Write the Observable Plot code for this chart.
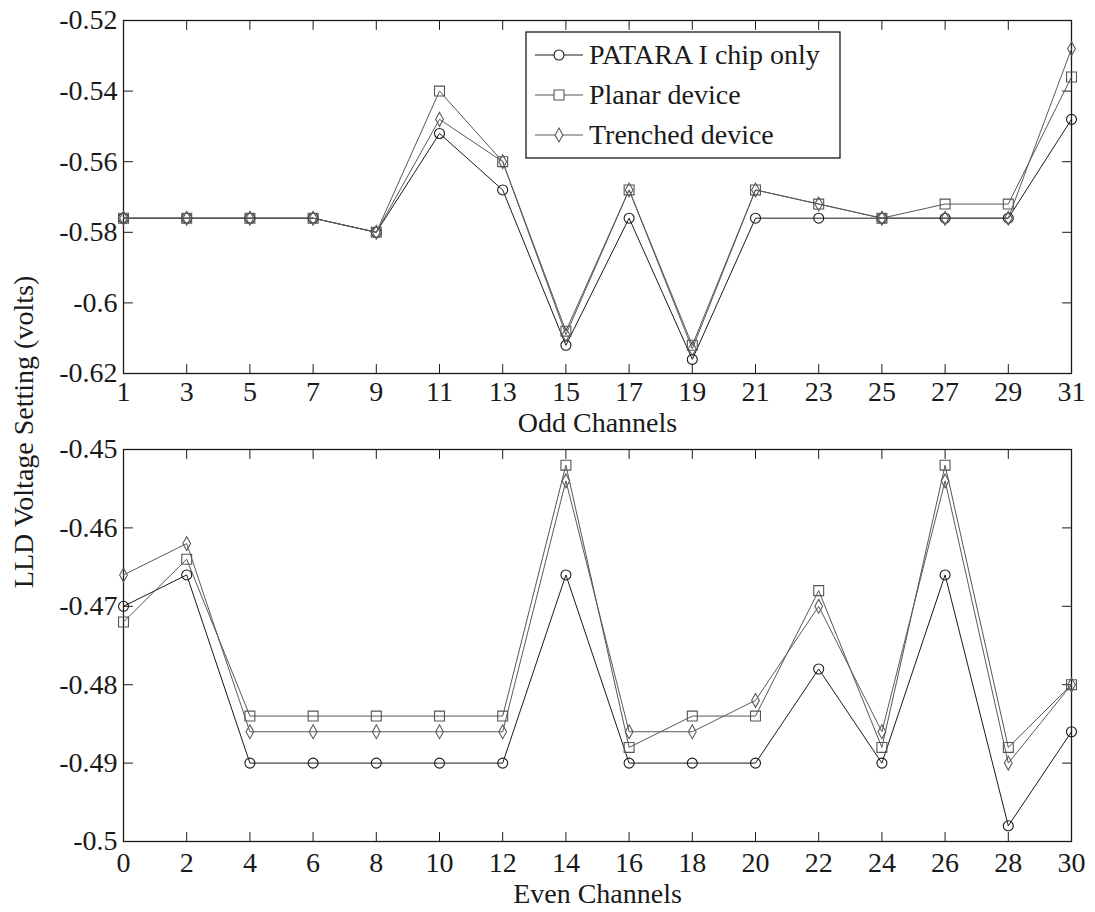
<!DOCTYPE html>
<html>
<head>
<meta charset="utf-8">
<script src="https://cdn.jsdelivr.net/npm/d3@7"></script>
<script src="https://cdn.jsdelivr.net/npm/@observablehq/plot@0.6"></script>
<style>
  html, body { margin: 0; padding: 0; background: #fff; }
  #wrap { position: relative; width: 1095px; height: 912px; background: #fff;
          font-family: "Times New Roman", "Liberation Serif", Tinos, "DejaVu Serif", serif; color: #1a1a1a; }
  #wrap > svg { position: absolute; left: 0; }
  #wrap text { font-family: "Times New Roman", "Liberation Serif", Tinos, "DejaVu Serif", serif !important; }
</style>
</head>
<body>
<div id="wrap"></div>
<script>
// ---------------- data ----------------
const seriesNames = ["PATARA I chip only", "Planar device", "Trenched device"];

const oddChannels = [1, 3, 5, 7, 9, 11, 13, 15, 17, 19, 21, 23, 25, 27, 29, 31];
const oddPatara   = [-0.576, -0.576, -0.576, -0.576, -0.580, -0.552, -0.568, -0.612, -0.576, -0.616, -0.576, -0.576, -0.576, -0.576, -0.576, -0.548];
const oddPlanar   = [-0.576, -0.576, -0.576, -0.576, -0.580, -0.540, -0.560, -0.608, -0.568, -0.612, -0.568, -0.572, -0.576, -0.572, -0.572, -0.536];
const oddTrenched = [-0.576, -0.576, -0.576, -0.576, -0.580, -0.548, -0.560, -0.609, -0.568, -0.613, -0.568, -0.572, -0.576, -0.576, -0.576, -0.528];

const evenChannels = [0, 2, 4, 6, 8, 10, 12, 14, 16, 18, 20, 22, 24, 26, 28, 30];
const evenPatara   = [-0.470, -0.466, -0.490, -0.490, -0.490, -0.490, -0.490, -0.466, -0.490, -0.490, -0.490, -0.478, -0.490, -0.466, -0.498, -0.486];
const evenPlanar   = [-0.472, -0.464, -0.484, -0.484, -0.484, -0.484, -0.484, -0.452, -0.488, -0.484, -0.484, -0.468, -0.488, -0.452, -0.488, -0.480];
const evenTrenched = [-0.466, -0.462, -0.486, -0.486, -0.486, -0.486, -0.486, -0.454, -0.486, -0.486, -0.482, -0.470, -0.486, -0.454, -0.490, -0.480];

const oddYTicks  = [-0.62, -0.60, -0.58, -0.56, -0.54, -0.52];
const evenYTicks = [-0.50, -0.49, -0.48, -0.47, -0.46, -0.45];

const yTitle = "LLD Voltage Setting (volts)";
const oddTitle = "Odd Channels";
const evenTitle = "Even Channels";

(function () {
// ---------------- styling helpers ----------------
const seriesColors = ["#1a1a1a", "#555555", "#5a5a5a"];
const axisColor = "#1a1a1a";
const fontFamily = '"Times New Roman", "Liberation Serif", Tinos, "DejaVu Serif", serif';

// tall, narrow MATLAB-like diamond
const tallDiamond = {
  draw(context, size) {
    const s = Math.sqrt(size);
    context.moveTo(0, -0.75 * s);
    context.lineTo(0.42 * s, 0);
    context.lineTo(0, 0.75 * s);
    context.lineTo(-0.42 * s, 0);
    context.closePath();
  }
};
const seriesSymbols = ["circle", "square", tallDiamond];
const seriesR = [5, 5.6, 5.2];

// inward tick shape (a plain line segment)
const tickShape = { draw(context, l) { context.moveTo(0, 0); context.lineTo(0, -l); } };

function makeRows(channels, arrays) {
  const rows = [];
  arrays.forEach((vals, si) => {
    channels.forEach((c, i) => rows.push({ ch: c, v: vals[i], s: seriesNames[si] }));
  });
  return rows;
}

function panel({ channels, arrays, yDomain, yTicks, xDomain, title, height, marginTop, marginBottom, tickPad, titleDy }) {
  const rows = makeRows(channels, arrays);
  const TL = 9;
  const marks = [];
  marks.push(Plot.vectorX(channels, { frameAnchor: "bottom", length: TL, anchor: "start", shape: tickShape, stroke: axisColor, strokeWidth: 1 }));
  marks.push(Plot.vectorX(channels, { frameAnchor: "top", length: TL, anchor: "start", rotate: 180, shape: tickShape, stroke: axisColor, strokeWidth: 1 }));
  marks.push(Plot.vectorY(yTicks, { frameAnchor: "left", length: TL, anchor: "start", rotate: 90, shape: tickShape, stroke: axisColor, strokeWidth: 1 }));
  marks.push(Plot.vectorY(yTicks, { frameAnchor: "right", length: TL, anchor: "start", rotate: -90, shape: tickShape, stroke: axisColor, strokeWidth: 1 }));
  marks.push(Plot.frame({ stroke: axisColor, strokeWidth: 1.3 }));
  seriesNames.forEach((name, si) => {
    const d = rows.filter(r => r.s === name);
    marks.push(Plot.line(d, { x: "ch", y: "v", stroke: seriesColors[si], strokeWidth: 1 }));
  });
  seriesNames.forEach((name, si) => {
    const d = rows.filter(r => r.s === name);
    marks.push(Plot.dot(d, { x: "ch", y: "v", symbol: seriesSymbols[si], r: seriesR[si], stroke: seriesColors[si], fill: "none", strokeWidth: 1.1 }));
  });
  marks.push(Plot.axisX({ ticks: channels, tickSize: 0, tickPadding: tickPad, tickFormat: d => String(d), fontSize: 28, label: null, fill: axisColor }));
  marks.push(Plot.axisY({ ticks: yTicks, tickSize: 0, tickPadding: 6, tickFormat: d => String(+d.toFixed(2)), fontSize: 28, label: null, fill: axisColor }));
  marks.push(Plot.text([title], { text: d => d, frameAnchor: "bottom", dy: titleDy, lineAnchor: "middle", fontSize: 28, fill: axisColor }));

  return Plot.plot({
    width: 1095,
    height,
    marginLeft: 123,
    marginRight: 24,
    marginTop,
    marginBottom,
    x: { domain: xDomain },
    y: { domain: yDomain },
    style: { fontFamily, background: "transparent", color: axisColor, overflow: "visible" },
    marks
  });
}

const wrap = document.getElementById("wrap");

const topPanel = panel({
  channels: oddChannels, arrays: [oddPatara, oddPlanar, oddTrenched],
  yDomain: [-0.62, -0.52], yTicks: oddYTicks, xDomain: [1, 31], title: oddTitle,
  height: 440, marginTop: 20, marginBottom: 67, tickPad: 8, titleDy: 50
});
topPanel.style.top = "0px";
wrap.appendChild(topPanel);

const bottomPanel = panel({
  channels: evenChannels, arrays: [evenPatara, evenPlanar, evenTrenched],
  yDomain: [-0.50, -0.45], yTicks: evenYTicks, xDomain: [0, 30], title: evenTitle,
  height: 472, marginTop: 9, marginBottom: 71, tickPad: 11, titleDy: 53
});
bottomPanel.style.top = "440px";
wrap.appendChild(bottomPanel);

// shared y-axis title
const ysvg = d3.create("svg").attr("width", 60).attr("height", 912)
  .style("position", "absolute").style("left", "0px").style("top", "0px");
ysvg.append("text")
  .attr("transform", "translate(33,432) rotate(-90)")
  .attr("text-anchor", "middle")
  .attr("font-family", fontFamily).attr("font-size", 28).attr("fill", axisColor)
  .text(yTitle);
wrap.appendChild(ysvg.node());

// legend (top panel)
const lg = d3.create("svg").attr("width", 1095).attr("height", 200)
  .style("position", "absolute").style("left", "0px").style("top", "0px");
const boxX = 526, boxY = 32, boxW = 314, boxH = 126;
lg.append("rect").attr("x", boxX).attr("y", boxY).attr("width", boxW).attr("height", boxH)
  .attr("fill", "#fff").attr("stroke", axisColor).attr("stroke-width", 1.3);
seriesNames.forEach((name, i) => {
  const cy = 55 + i * 40;
  const g = lg.append("g");
  g.append("line").attr("x1", 535).attr("x2", 583).attr("y1", cy).attr("y2", cy)
    .attr("stroke", seriesColors[i]).attr("stroke-width", 1);
  const symType = seriesSymbols[i] === "circle" ? d3.symbolCircle
    : seriesSymbols[i] === "square" ? d3.symbolSquare : seriesSymbols[i];
  const sym = d3.symbol().type(symType).size(Math.PI * seriesR[i] * seriesR[i]);
  g.append("path").attr("d", sym()).attr("transform", `translate(559,${cy})`)
    .attr("fill", "#fff").attr("stroke", seriesColors[i]).attr("stroke-width", 1.1);
  g.append("text").attr("x", 589).attr("y", cy).attr("dy", "0.33em")
    .attr("font-family", fontFamily).attr("font-size", 28).attr("fill", axisColor)
    .text(name);
});
wrap.appendChild(lg.node());
})();
</script>
</body>
</html>
